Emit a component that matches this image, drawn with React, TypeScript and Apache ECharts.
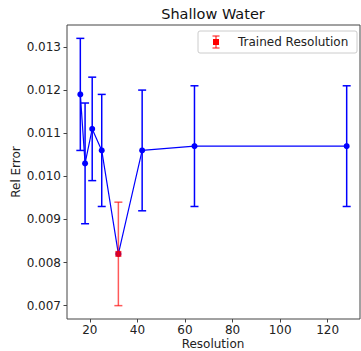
import React, { useEffect, useRef } from "react";
import * as echarts from "echarts";

const resolutions = [16, 18, 21, 25, 32, 42, 64, 128];
const relError = [0.0119, 0.0103, 0.0111, 0.0106, 0.0082, 0.0106, 0.0107, 0.0107];
const errLow = [0.0106, 0.0089, 0.0099, 0.0093, 0.007, 0.0092, 0.0093, 0.0093];
const errHigh = [0.0132, 0.0117, 0.0123, 0.0119, 0.0094, 0.012, 0.0121, 0.0121];
const trainedResolution = 32;
const xTicks = [20, 40, 60, 80, 100, 120];
const yTicks = [0.007, 0.008, 0.009, 0.01, 0.011, 0.012, 0.013];
const titleText = "Shallow Water";
const xLabel = "Resolution";
const yLabel = "Rel Error";
const legendLabel = "Trained Resolution";

const BLUE = "#0000ff";
const RED = "rgba(255,0,0,0.65)";
const FONT = "DejaVu Sans";

export default function App() {
  const ref = useRef<HTMLDivElement>(null);
  useEffect(() => {
    document.body.style.margin = "0";
    const chart = echarts.init(ref.current!, null, { renderer: "svg" });
    const errData = resolutions.map((r, i) => [r, errLow[i], errHigh[i]]);
    const mainLine = resolutions.map((r, i) => [r, relError[i]]);
    const ti = resolutions.indexOf(trainedResolution);
    const redPoint = [[resolutions[ti], relError[ti]]];
    const cap = 4;
    chart.setOption({
      animation: false,
      grid: {
        left: 67,
        right: 1,
        top: 25,
        bottom: 32,
        show: true,
        borderColor: "#444",
        borderWidth: 1,
        backgroundColor: "transparent",
      },
      xAxis: {
        type: "value",
        min: 10.4,
        max: 133.6,
        axisLine: { show: false },
        splitLine: { show: false },
        axisTick: {
          show: true,
          customValues: xTicks,
          length: 3.5,
          lineStyle: { color: "#444" },
        },
        axisLabel: {
          customValues: xTicks,
          margin: 5,
          fontFamily: FONT,
          fontSize: 12,
          color: "#222",
        },
      },
      yAxis: {
        type: "value",
        min: 0.00669,
        max: 0.01351,
        axisLine: { show: false },
        splitLine: { show: false },
        axisTick: {
          show: true,
          customValues: yTicks,
          length: 3.5,
          lineStyle: { color: "#444" },
        },
        axisLabel: {
          customValues: yTicks,
          margin: 6,
          fontFamily: FONT,
          fontSize: 12,
          color: "#222",
          formatter: (v: number) => v.toFixed(3),
        },
      },
      graphic: [
        {
          type: "text",
          style: {
            text: titleText,
            x: 213,
            y: 14,
            align: "center",
            verticalAlign: "middle",
            font: `14.5px ${FONT}`,
            fill: "#111",
          },
        },
        {
          type: "text",
          style: {
            text: xLabel,
            x: 213,
            y: 344,
            align: "center",
            verticalAlign: "middle",
            font: `12px ${FONT}`,
            fill: "#222",
          },
        },
        {
          type: "text",
          x: 16,
          y: 172,
          rotation: Math.PI / 2,
          style: {
            text: yLabel,
            x: 0,
            y: 0,
            align: "center",
            verticalAlign: "middle",
            font: `12px ${FONT}`,
            fill: "#222",
          },
        },
        {
          type: "rect",
          shape: { x: 198, y: 31, width: 159, height: 22, r: 2 },
          style: { fill: "rgba(255,255,255,0.8)", stroke: "#ccc", lineWidth: 1 },
          z: 10,
        },
        {
          type: "line",
          shape: { x1: 216, y1: 36, x2: 216, y2: 48 },
          style: { stroke: RED, lineWidth: 1.5 },
          z: 11,
        },
        {
          type: "line",
          shape: { x1: 212.5, y1: 36, x2: 219.5, y2: 36 },
          style: { stroke: RED, lineWidth: 1.5 },
          z: 11,
        },
        {
          type: "line",
          shape: { x1: 212.5, y1: 48, x2: 219.5, y2: 48 },
          style: { stroke: RED, lineWidth: 1.5 },
          z: 11,
        },
        {
          type: "rect",
          shape: { x: 213, y: 39, width: 6, height: 6 },
          style: { fill: "#ff0000" },
          z: 12,
        },
        {
          type: "text",
          z: 12,
          style: {
            text: legendLabel,
            x: 238,
            y: 42,
            verticalAlign: "middle",
            font: `12px ${FONT}`,
            fill: "#222",
          },
        },
      ],
      series: [
        {
          type: "line",
          data: mainLine,
          symbol: "circle",
          symbolSize: 6,
          lineStyle: { color: BLUE, width: 1.2 },
          itemStyle: { color: BLUE },
          z: 2,
        },
        {
          type: "custom",
          data: errData,
          z: 3,
          renderItem: (params: any, api: any) => {
            const x = api.value(0);
            const lo = api.coord([x, api.value(1)]);
            const hi = api.coord([x, api.value(2)]);
            const color = x === trainedResolution ? RED : BLUE;
            const style = { stroke: color, lineWidth: 1.5, fill: "none" };
            return {
              type: "group",
              children: [
                { type: "line", shape: { x1: lo[0], y1: lo[1], x2: hi[0], y2: hi[1] }, style },
                { type: "line", shape: { x1: lo[0] - cap, y1: lo[1], x2: lo[0] + cap, y2: lo[1] }, style },
                { type: "line", shape: { x1: hi[0] - cap, y1: hi[1], x2: hi[0] + cap, y2: hi[1] }, style },
              ],
            };
          },
        },
        {
          type: "scatter",
          data: redPoint,
          symbol: "rect",
          symbolSize: 6,
          itemStyle: { color: "#ff0000" },
          z: 4,
        },
      ],
    });
    return () => chart.dispose();
  }, []);
  return (
    <div
      ref={ref}
      style={{ position: "absolute", left: 0, top: 0, width: 361, height: 351, background: "#fff" }}
    />
  );
}
